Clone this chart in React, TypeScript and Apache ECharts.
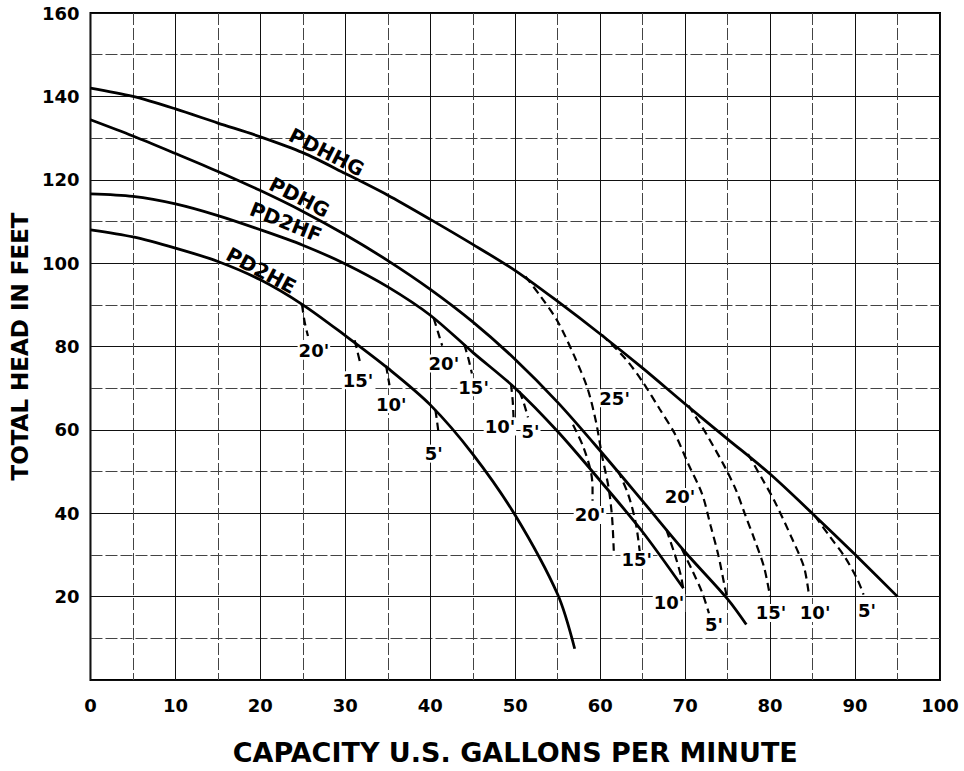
import React, { useEffect, useRef } from "react";
import * as echarts from "echarts";

const FONT = '"DejaVu Sans", "Liberation Sans", sans-serif';

// Axis ticks
const X_MIN = 0, X_MAX = 100, X_STEP = 10;
const Y_MIN = 0, Y_MAX = 160, Y_STEP = 20;

// Pump curves (capacity gpm, total head ft)
const PDHHG: [number, number][] = [
  [0, 142], [5, 140], [10, 137], [15, 133.6], [20, 130.3], [25, 126.5], [30, 121.5],
  [35, 116.3], [40, 110.5], [45, 104.5], [50, 98.2], [55, 90.8], [60, 83], [65, 74.8],
  [70, 66.2], [75, 57.8], [80, 49.4], [85, 39.9], [90, 30.1], [95, 20],
];
const PDHG: [number, number][] = [
  [0, 134.4], [5, 130.5], [10, 126.3], [15, 122], [20, 117.4], [25, 112.4], [30, 106.8],
  [35, 100.6], [40, 93.7], [45, 85.9], [50, 76.9], [55, 66.6], [60, 55], [65, 42.9],
  [70, 30.7], [75, 19.4], [77.2, 13.3],
];
const PD2HF: [number, number][] = [
  [0, 116.6], [5, 116], [10, 114.2], [15, 111.4], [20, 108], [25, 104.3], [30, 99.8],
  [35, 94.3], [40, 87.5], [45, 78.6], [50, 70], [55, 59.6], [60, 47.8], [65, 35.5],
  [69.8, 22],
];
const PD2HE: [number, number][] = [
  [0, 108], [5, 106.3], [10, 103.6], [15, 100.4], [20, 96], [25, 90], [30, 82.6],
  [35, 74.8], [40, 66], [45, 54.2], [50, 39.5], [55, 20.5], [57, 7.5],
];

// Suction-lift (dashed) curves
const PD2HE_20: [number, number][] = [[24.9, 90], [25.2, 86], [25.6, 82.5]];
const PD2HE_15: [number, number][] = [[31.1, 81.5], [31.4, 79], [31.7, 76.5]];
const PD2HE_10: [number, number][] = [[34.8, 75.4], [35, 73], [35.2, 70.7]];
const PD2HE_5: [number, number][] = [[40.6, 64.8], [40.8, 62], [41, 58.8]];

const PD2HF_20: [number, number][] = [[40.4, 86.8], [40.9, 83.5], [41.4, 80.2]];
const PD2HF_15: [number, number][] = [[44, 80.5], [44.5, 77], [44.9, 73.5]];
const PD2HF_10: [number, number][] = [[49.5, 71], [49.7, 67], [49.8, 63]];
const PD2HF_5: [number, number][] = [[50.5, 69.2], [51, 66.5], [51.5, 63]];

const PDHG_20: [number, number][] = [[56.8, 61.2], [58, 56], [58.9, 50], [59.1, 46], [59.1, 43]];
const PDHG_15: [number, number][] = [[62.1, 50.2], [63.3, 44.5], [64.2, 37.5], [64.7, 30]];
const PDHG_10: [number, number][] = [[67.8, 36], [68.8, 30], [69.5, 25], [69.8, 21.5]];
const PDHG_5: [number, number][] = [[69.6, 31.5], [70.9, 26], [72, 21], [72.8, 16]];

const PDHHG_25: [number, number][] = [
  [51.2, 96.8], [53, 92], [55, 86], [57, 77.5], [58.5, 70], [59.5, 62], [60.2, 54],
  [61, 46], [61.4, 39], [61.6, 31],
];
const PDHHG_20: [number, number][] = [
  [60.2, 82.8], [63, 77], [65, 71.5], [67, 65], [68.8, 59], [70.4, 51.7], [72, 44.6],
  [73, 37], [73.9, 30], [74.6, 23], [74.9, 20],
];
const PDHHG_15: [number, number][] = [
  [70.4, 65.8], [72.5, 59], [74.7, 51], [76, 45.5], [77, 40], [78.2, 33.5], [79.3, 27], [80, 20],
];
const PDHHG_10: [number, number][] = [
  [77.4, 54.2], [79, 48.5], [80.5, 43], [82.5, 34.3], [84, 27], [84.6, 20],
];
const PDHHG_5: [number, number][] = [
  [85.3, 39.3], [87, 34.5], [88.8, 29.5], [90.3, 24], [91, 20.5],
];

// Labels: [x, y, text]
const LIFT_LABELS: [number, number, string][] = [
  [26.3, 79.0, "20'"], [31.5, 71.9, "15'"], [35.4, 66.2, "10'"], [40.4, 54.3, "5'"],
  [41.6, 75.9, "20'"], [45.1, 70.2, "15'"], [48.2, 60.8, "10'"], [51.8, 59.5, "5'"],
  [61.7, 67.6, "25'"],
  [58.8, 39.6, "20'"], [64.3, 28.8, "15'"], [68.1, 18.5, "10'"], [73.4, 13.3, "5'"],
  [69.4, 43.9, "20'"], [80.1, 16.1, "15'"], [85.3, 16.1, "10'"], [91.4, 16.6, "5'"],
];
// Curve names: [x, y, text, angle]
const CURVE_LABELS: [number, number, string, number][] = [
  [27.8, 126.6, "PDHHG", -27],
  [24.6, 115.8, "PDHG", -27],
  [23.0, 109.8, "PD2HF", -22],
  [20.1, 98.2, "PD2HE", -28],
];

const SOLID = [PDHHG, PDHG, PD2HF, PD2HE];
const DASHED = [
  PD2HE_20, PD2HE_15, PD2HE_10, PD2HE_5,
  PD2HF_20, PD2HF_15, PD2HF_10, PD2HF_5,
  PDHG_20, PDHG_15, PDHG_10, PDHG_5,
  PDHHG_25, PDHHG_20, PDHHG_15, PDHHG_10, PDHHG_5,
];

export default function App() {
  const ref = useRef<HTMLDivElement>(null);
  useEffect(() => {
    if (!ref.current) return;
    const chart = echarts.init(ref.current, undefined, { renderer: "svg" });
    const labelText = {
      fontFamily: FONT,
      fontWeight: "bold" as const,
      color: "#000",
    };
    const series: any[] = [];
    SOLID.forEach((pts) => {
      series.push({
        type: "line",
        data: pts,
        smooth: 0.3,
        showSymbol: false,
        symbol: "none",
        lineStyle: { color: "#000", width: 2.8 },
        z: 5,
      });
    });
    DASHED.forEach((pts) => {
      series.push({
        type: "line",
        data: pts,
        smooth: 0.3,
        showSymbol: false,
        symbol: "none",
        lineStyle: { color: "#000", width: 2.2, type: [8, 5] },
        z: 4,
      });
    });
    series.push({
      type: "scatter",
      symbolSize: 0,
      itemStyle: { color: "#000", opacity: 1 },
      data: LIFT_LABELS.map((d) => ({ value: [d[0], d[1]], name: d[2] })),
      label: {
        show: true,
        position: [0, 0],
        align: "center",
        verticalAlign: "middle",
        formatter: (p: any) => p.name,
        ...labelText,
        fontSize: 18,
        backgroundColor: "#fff",
        padding: [0, 1],
      },
      emphasis: { disabled: true },
      z: 6,
    });
    series.push({
      type: "scatter",
      symbolSize: 0,
      itemStyle: { color: "#000", opacity: 1 },
      data: CURVE_LABELS.map((d) => ({
        value: [d[0], d[1]],
        name: d[2],
        label: { rotate: d[3] },
      })),
      label: {
        show: true,
        position: [0, 0],
        align: "center",
        verticalAlign: "middle",
        formatter: (p: any) => p.name,
        ...labelText,
        fontSize: 20,
      },
      emphasis: { disabled: true },
      z: 6,
    });

    chart.setOption({
      animation: false,
      backgroundColor: "#fff",
      grid: {
        left: 86,
        right: 24,
        top: 13,
        bottom: 84,
        show: true,
        borderColor: "#000",
        borderWidth: 2,
        backgroundColor: "transparent",
      },
      xAxis: {
        type: "value",
        min: X_MIN,
        max: X_MAX,
        interval: X_STEP,
        name: "CAPACITY U.S. GALLONS PER MINUTE",
        nameLocation: "middle",
        nameGap: 59,
        nameTextStyle: { ...labelText, fontSize: 27 },
        axisLine: { show: false },
        axisTick: { show: false },
        axisLabel: { ...labelText, fontSize: 18, margin: 16 },
        splitLine: { show: true, lineStyle: { color: "#111", width: 1 } },
        minorTick: { show: false, splitNumber: 2 },
        minorSplitLine: { show: true, lineStyle: { color: "#444", width: 1, type: [12, 3] } },
      },
      yAxis: {
        type: "value",
        min: Y_MIN,
        max: Y_MAX,
        interval: Y_STEP,
        name: "TOTAL HEAD IN FEET",
        nameLocation: "middle",
        nameGap: 47,
        nameTextStyle: { ...labelText, fontSize: 23 },
        axisLine: { show: false },
        axisTick: { show: false },
        axisLabel: {
          ...labelText,
          fontSize: 18,
          margin: 11,
          formatter: (v: number) => (v === 0 ? "" : String(v)),
        },
        splitLine: { show: true, lineStyle: { color: "#111", width: 1 } },
        minorTick: { show: false, splitNumber: 2 },
        minorSplitLine: { show: true, lineStyle: { color: "#444", width: 1, type: [12, 3] } },
      },
      series,
    });
    return () => chart.dispose();
  }, []);
  return (
    <div
      ref={ref}
      style={{ position: "fixed", left: 0, top: 0, width: 964, height: 771, background: "#fff" }}
    />
  );
}
